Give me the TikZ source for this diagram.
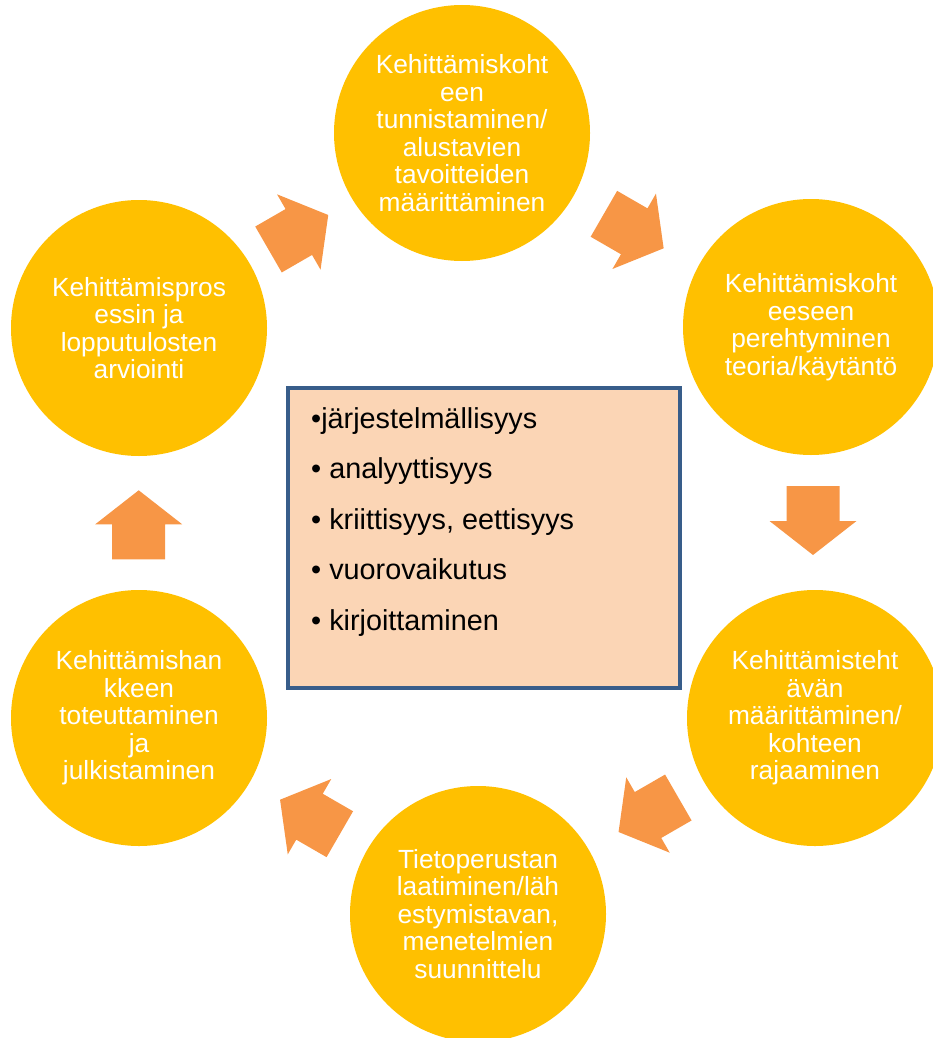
\documentclass[tikz,border=0pt]{standalone}
\usepackage{fontspec}
\setmainfont{Liberation Sans}
\definecolor{gold}{HTML}{FFC000}
\definecolor{arroworange}{HTML}{F79646}
\definecolor{peach}{HTML}{FBD5B5}
\definecolor{boxblue}{HTML}{385D8A}
\tikzset{
  stage/.style={circle, fill=gold, minimum size=256pt, inner sep=0pt, text=white,
    align=center, font=\fontsize{26.3}{27.5}\selectfont},
  blockarrow/.style={fill=arroworange},
  centerbox/.style={rectangle, draw=boxblue, line width=4pt, fill=peach,
    minimum width=392pt, minimum height=300pt, inner sep=0pt},
  item/.style={anchor=base west, inner sep=0pt, font=\fontsize{28.8}{30}\selectfont}
}
\newcommand\blockarr[3]{%
  \fill[blockarrow, shift={(#1,#2)}, rotate=#3]
    (-35,-26.5) -- (0,-26.5) -- (0,-43.5) -- (34,0) -- (0,43.5) -- (0,26.5) -- (-35,26.5) -- cycle;}
\begin{document}
\begin{tikzpicture}[x=1pt, y=-1pt]
\useasboundingbox (0,0) rectangle (933,1038);
% block arrows
\blockarr{298.8}{232}{30}
\blockarr{634.2}{231.3}{-30}
\blockarr{813}{521}{-90}
\blockarr{648}{815}{210}
\blockarr{309.5}{816.7}{150}
\blockarr{138.7}{524.3}{90}
% stages
\node[stage] (t)  at (462,133) {Kehittämiskoht\\een\\tunnistaminen/\\alustavien\\tavoitteiden\\määrittäminen};
\node[stage] (tr) at (811,327) {Kehittämiskoht\\eeseen\\perehtyminen\\teoria/käytäntö};
\node[stage] (br) at (815,718) {Kehittämisteht\\ävän\\määrittäminen/\\kohteen\\rajaaminen};
\node[stage] (b)  at (478,914) {Tietoperustan\\laatiminen/läh\\estymistavan,\\menetelmien\\suunnittelu};
\node[stage] (bl) at (139,718) {Kehittämishan\\kkeen\\toteuttaminen\\ja\\julkistaminen};
\node[stage] (tl) at (139,328) {Kehittämispros\\essin ja\\lopputulosten\\arviointi};
% center box
\node[centerbox] (box) at (484,538) {};
\node[item] (i1) at (311,428) {•järjestelmällisyys};
\node[item] (i2) at (311,478.5) {• analyyttisyys};
\node[item] (i3) at (311,529) {• kriittisyys, eettisyys};
\node[item] (i4) at (311,579.5) {• vuorovaikutus};
\node[item] (i5) at (311,630) {• kirjoittaminen};
\end{tikzpicture}
\end{document}
